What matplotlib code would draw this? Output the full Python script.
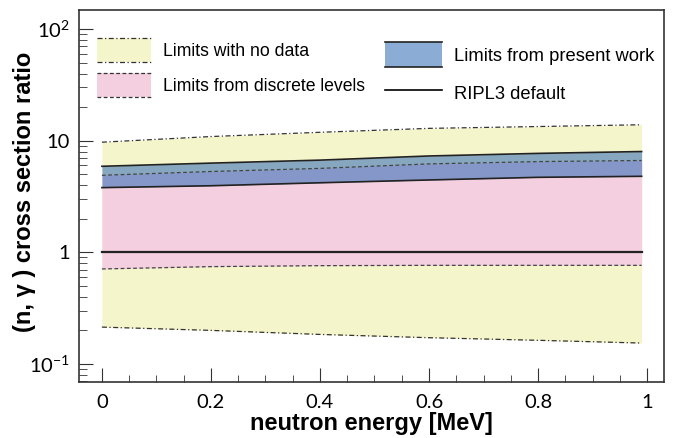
import matplotlib
matplotlib.use("Agg")
import matplotlib.pyplot as plt
import numpy as np
from matplotlib.legend_handler import HandlerBase
from matplotlib.lines import Line2D
from matplotlib.patches import Rectangle
from matplotlib.ticker import FixedLocator, FixedFormatter, LogLocator, MultipleLocator, NullFormatter

plt.rcParams['font.family'] = ['Liberation Sans', 'DejaVu Sans']

# data
energy = [0.0, 0.2, 0.4, 0.6, 0.8, 0.99]
nodata_hi = [9.7, 10.9, 11.9, 12.9, 13.4, 13.9]
nodata_lo = [0.214, 0.200, 0.184, 0.172, 0.163, 0.154]
discrete_hi = [4.9, 5.3, 5.65, 6.2, 6.5, 6.65]
discrete_lo = [0.71, 0.745, 0.76, 0.765, 0.765, 0.765]
present_hi = [5.9, 6.3, 6.7, 7.3, 7.7, 8.0]
present_lo = [3.8, 3.95, 4.2, 4.45, 4.7, 4.8]
ripl3 = [1.0, 1.0, 1.0, 1.0, 1.0, 1.0]

c_yellow = '#f5f5cc'
c_pink = '#f3cfe0'
c_blue = '#3670b7'
a_blue = 0.58

dashdot = (0, (4, 2, 1, 2))
dashed = (0, (3, 2))


class BandHandler(HandlerBase):
    """filled box with a border line on top and bottom only"""

    def __init__(self, face, alpha, ls, lw, ec):
        super().__init__()
        self.face, self.alpha, self.ls, self.lw, self.ec = face, alpha, ls, lw, ec

    def create_artists(self, legend, orig_handle, xdescent, ydescent,
                       width, height, fontsize, trans):
        x0, y0 = -xdescent, -ydescent
        r = Rectangle((x0, y0), width, height, facecolor=self.face,
                      alpha=self.alpha, edgecolor='none', transform=trans)
        top = Line2D([x0, x0 + width], [y0 + height] * 2, color=self.ec,
                     ls=self.ls, lw=self.lw, transform=trans)
        bot = Line2D([x0, x0 + width], [y0] * 2, color=self.ec,
                     ls=self.ls, lw=self.lw, transform=trans)
        return [r, top, bot]


fig = plt.figure(figsize=(6.73, 4.38), dpi=100)
ax = fig.add_axes([0.1174, 0.1279, 0.8692, 0.8491])

ax.fill_between(energy, nodata_lo, nodata_hi, color=c_yellow, lw=0)
ax.fill_between(energy, discrete_lo, discrete_hi, color=c_pink, lw=0)
ax.fill_between(energy, present_lo, present_hi, color=c_blue, alpha=a_blue, lw=0)

ax.plot(energy, nodata_hi, color='#333333', ls=dashdot, lw=0.9)
ax.plot(energy, nodata_lo, color='#333333', ls=dashdot, lw=0.9)
ax.plot(energy, discrete_hi, color='#444444', ls=dashed, lw=0.9)
ax.plot(energy, discrete_lo, color='#444444', ls=dashed, lw=0.9)
ax.plot(energy, present_hi, color='#222222', lw=1.2)
ax.plot(energy, present_lo, color='#222222', lw=1.2)
ax.plot(energy, ripl3, color='#222222', lw=1.6)

ax.set_yscale('log')
ax.set_xlim(-0.042, 1.031)
ax.set_ylim(0.069, 148)

ax.xaxis.set_major_locator(MultipleLocator(0.2))
ax.xaxis.set_minor_locator(MultipleLocator(0.05))
ax.xaxis.set_major_formatter(plt.FuncFormatter(lambda v, p: '%g' % round(v, 2)))

ax.yaxis.set_major_locator(FixedLocator([0.1, 1, 10, 100]))
ax.yaxis.set_major_formatter(FixedFormatter([r'$\mathregular{10^{-1}}$', '1', '10',
                                             r'$\mathregular{10^{2}}$']))
ax.yaxis.set_minor_locator(LogLocator(base=10, subs=np.arange(2, 10)))
ax.yaxis.set_minor_formatter(NullFormatter())

ax.tick_params(which='both', direction='in', top=False, right=False,
               labelsize=14.5, labelfontfamily='Lato', color='#333333')
ax.tick_params(axis='x', which='major', length=10, pad=9)
ax.tick_params(axis='x', which='minor', length=5)
ax.tick_params(axis='y', which='major', length=10, pad=6.8)
ax.tick_params(axis='y', which='minor', length=6)
for s in ax.spines.values():
    s.set_color('#333333')
    s.set_linewidth(1.2)

ax.set_xlabel('neutron energy [MeV]', fontsize=17, fontweight='bold')
ax.xaxis.set_label_coords(0.5, -0.082)
ax.set_ylabel('(n, γ ) cross section ratio', fontsize=17, fontweight='bold')
ax.yaxis.set_label_coords(-0.074, 0.51)

h1 = Rectangle((0, 0), 1, 1)
h2 = Rectangle((0, 0), 1, 1)
h3 = Rectangle((0, 0), 1, 1)
h4 = Line2D([], [], color='black', lw=1.2)

leg1 = ax.legend([h1, h2], ['Limits with no data', 'Limits from discrete levels'],
                 handler_map={h1: BandHandler(c_yellow, 1.0, dashdot, 0.9, '#333333'),
                              h2: BandHandler(c_pink, 1.0, dashed, 0.9, '#333333')},
                 loc='upper left', bbox_to_anchor=(0.030, 0.9247), frameon=False,
                 fontsize=12.7, borderpad=0, borderaxespad=0, handlelength=3.07,
                 handleheight=1.716, handletextpad=0.68, labelspacing=0.62)
ax.add_artist(leg1)
ax.legend([h3, h4], ['Limits from present work', 'RIPL3 default'],
          handler_map={h3: BandHandler(c_blue, a_blue, '-', 1.2, '#222222')},
          loc='upper left', bbox_to_anchor=(0.523, 0.914), frameon=False,
          fontsize=13.2, borderpad=0, borderaxespad=0, handlelength=3.11,
          handleheight=1.72, handletextpad=0.66, labelspacing=0.75)

fig.savefig('out.png', dpi=100)
